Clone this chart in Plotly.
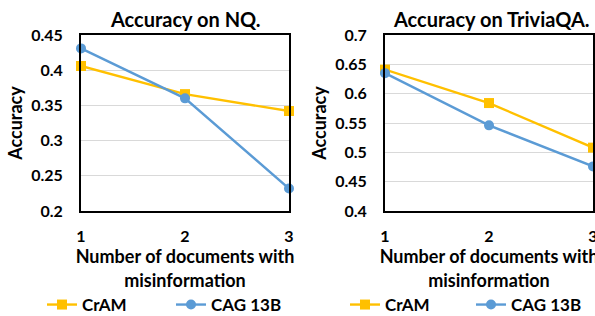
import plotly.graph_objects as go

docs = [1, 2, 3]
nq_cram = [0.406, 0.366, 0.342]
nq_cag = [0.431, 0.360, 0.232]
tqa_cram = [0.641, 0.584, 0.508]
tqa_cag = [0.635, 0.546, 0.476]

nq_yticks = [0.2, 0.25, 0.3, 0.35, 0.4, 0.45]
nq_ytext = ["0.2", "0.25", "0.3", "0.35", "0.4", "0.45"]
tqa_yticks = [0.4, 0.45, 0.5, 0.55, 0.6, 0.65, 0.7]
tqa_ytext = ["0.4", "0.45", "0.5", "0.55", "0.6", "0.65", "0.7"]

ORANGE = "#FFC000"
BLUE = "#5B9BD5"
FONT = "Lato"

fig = go.Figure()

def add_pair(xa, ya, cram, cag, legend):
    fig.add_trace(go.Scatter(x=docs, y=cram, name="CrAM", mode="lines+markers",
                             line=dict(color=ORANGE, width=2.4),
                             marker=dict(symbol="square", size=10, color=ORANGE),
                             xaxis=xa, yaxis=ya, legend=legend, cliponaxis=False))
    fig.add_trace(go.Scatter(x=docs, y=cag, name="CAG 13B", mode="lines+markers",
                             line=dict(color=BLUE, width=2.4),
                             marker=dict(symbol="circle", size=10, color=BLUE),
                             xaxis=xa, yaxis=ya, legend=legend, cliponaxis=False))

add_pair("x", "y", nq_cram, nq_cag, "legend")
add_pair("x2", "y2", tqa_cram, tqa_cag, "legend2")

tickfont = dict(family=FONT, size=16, color="black", weight="bold")
titlefont = dict(family=FONT, size=18, color="black", weight="bold")

xcommon = dict(range=[1, 3], tickvals=docs, ticktext=["1", "2", "3"],
               showgrid=False, zeroline=False, showline=True, mirror=True,
               linecolor="black", linewidth=2, ticks="outside", ticklen=10,
               tickcolor="rgba(0,0,0,0)", tickfont=tickfont, automargin=False,
               ticklabeloverflow="allow",
               title=dict(text="Number of documents with<br>misinformation",
                          font=titlefont, standoff=5))
ycommon = dict(showgrid=True, gridcolor="#D9D9D9", gridwidth=1, zeroline=False,
               showline=True, mirror=True, linecolor="black", linewidth=2,
               ticks="outside", ticklen=13, tickcolor="rgba(0,0,0,0)",
               tickfont=tickfont, automargin=False,
               title=dict(text="Accuracy", font=titlefont, standoff=4))

ydom = [1 - 211 / 316, 1 - 35 / 316]

legfont = dict(family=FONT, size=17, color="black", weight="bold")

fig.update_layout(
    width=595, height=316,
    margin=dict(l=0, r=0, t=0, b=0, autoexpand=False),
    paper_bgcolor="white", plot_bgcolor="white",
    font=dict(family=FONT, color="black"),
    xaxis=dict(domain=[81 / 595, 289 / 595], anchor="y", **xcommon),
    yaxis=dict(domain=ydom, anchor="x", range=[0.2, 0.45], tickvals=nq_yticks,
               ticktext=nq_ytext, **ycommon),
    xaxis2=dict(domain=[385 / 595, 593 / 595], anchor="y2", **xcommon),
    yaxis2=dict(domain=ydom, anchor="x2", range=[0.4, 0.7], tickvals=tqa_yticks,
                ticktext=tqa_ytext, **ycommon),
    legend=dict(orientation="h", x=42 / 595, y=1 - 305 / 316, xanchor="left",
                yanchor="middle", entrywidth=84, entrywidthmode="pixels",
                itemwidth=30, font=legfont,
                bgcolor="rgba(0,0,0,0)", tracegroupgap=0),
    legend2=dict(orientation="h", x=345 / 595, y=1 - 305 / 316, xanchor="left",
                 yanchor="middle", entrywidth=81, entrywidthmode="pixels",
                 itemwidth=30, font=legfont,
                 bgcolor="rgba(0,0,0,0)", tracegroupgap=0),
    showlegend=True,
    annotations=[
        dict(text="Accuracy on NQ.", x=185 / 595, y=1 - 19 / 316, xref="paper", yref="paper",
             showarrow=False, xanchor="center", yanchor="middle",
             font=dict(family=FONT, size=20, color="black", weight="bold")),
        dict(text="Accuracy on TriviaQA.", x=491 / 595, y=1 - 19 / 316, xref="paper", yref="paper",
             showarrow=False, xanchor="center", yanchor="middle",
             font=dict(family=FONT, size=20, color="black", weight="bold")),
    ],
)

fig.write_html("out.html", config={"displayModeBar": False},
               post_script="document.body.style.margin='0px';")
